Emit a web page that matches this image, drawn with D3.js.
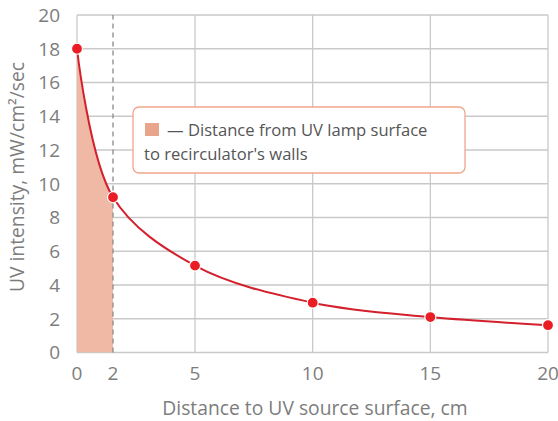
<!DOCTYPE html>
<html><head><meta charset="utf-8">
<script src="https://cdn.jsdelivr.net/npm/d3@7"></script>
<style>body{margin:0;background:#fff}svg{display:block}text{font-family:"Open Sans","Noto Sans",sans-serif}</style>
</head><body><svg id="c" width="558" height="421"></svg>
<script>
const distances = [0, 2, 5, 10, 15, 20];
const intensity = [18, 9.2, 5.15, 2.95, 2.1, 1.62];
const xTicks = [0, 2, 5, 10, 15, 20];
const yTicks = [0, 2, 4, 6, 8, 10, 12, 14, 16, 18, 20];
const wallDistance = 2;
const legendLines = ["\u2014 Distance from UV lamp surface", "to recirculator's walls"];
const xTitle = "Distance to UV source surface, cm";
const yTitle = "UV intensity, mW/cm\u00B2/sec";

const svg = d3.select("#c");
const x = d3.scaleLinear().domain([0, 2, 5, 20]).range([77, 113, 195, 548]);
const y = d3.scaleLinear().domain([0, 20]).range([352.5, 15]);
const data = distances.map((d, i) => ({x: d, y: intensity[i]}));
const grid = "#c9c9c9";
const tickColor = "#7d7d7d";

// horizontal grid
svg.append("g").selectAll("line").data(yTicks).join("line")
  .attr("x1", x(0)).attr("x2", x(20)).attr("y1", d => y(d)).attr("y2", d => y(d))
  .attr("stroke", grid).attr("stroke-width", 1.3);
// vertical grid
svg.append("g").selectAll("line").data(xTicks.filter(d => d !== wallDistance)).join("line")
  .attr("x1", d => x(d)).attr("x2", d => x(d)).attr("y1", y(0)).attr("y2", y(20))
  .attr("stroke", grid).attr("stroke-width", 1.3);

// area clip
svg.append("clipPath").attr("id", "clip").append("rect")
  .attr("x", x(0)).attr("y", 0).attr("width", x(wallDistance) - x(0)).attr("height", y(0));
const curve = d3.curveCatmullRom.alpha(0.5);
svg.append("path").datum(data).attr("clip-path", "url(#clip)")
  .attr("d", d3.area().x(d => x(d.x)).y0(y(0)).y1(d => y(d.y)).curve(curve))
  .attr("fill", "#f0b9a5");

// dashed line at wall distance
svg.append("line").attr("x1", x(wallDistance)).attr("x2", x(wallDistance))
  .attr("y1", y(0)).attr("y2", y(20)).attr("stroke", "#8a8a8a").attr("stroke-width", 1.3)
  .attr("stroke-dasharray", "5,4");

// curve
svg.append("path").datum(data)
  .attr("d", d3.line().x(d => x(d.x)).y(d => y(d.y)).curve(curve))
  .attr("fill", "none").attr("stroke", "#d3202c").attr("stroke-width", 2);

// points
svg.append("g").selectAll("circle").data(data).join("circle")
  .attr("cx", d => x(d.x)).attr("cy", d => y(d.y)).attr("r", 5.5)
  .attr("fill", "#ea1c24").attr("stroke", "#fff").attr("stroke-width", 1.2);

// axis labels
svg.append("g").selectAll("text").data(yTicks).join("text")
  .attr("x", 60).attr("y", d => y(d)).attr("dy", "0.36em").attr("text-anchor", "end")
  .attr("font-size", 19).attr("fill", tickColor).text(d => d);
svg.append("g").selectAll("text").data(xTicks).join("text")
  .attr("x", d => x(d)).attr("y", 380).attr("text-anchor", "middle")
  .attr("font-size", 19).attr("fill", tickColor).text(d => d);

svg.append("text").attr("x", 315).attr("y", 415).attr("text-anchor", "middle")
  .attr("font-size", 19.3).attr("fill", tickColor).text(xTitle);
svg.append("text").attr("transform", "translate(24,177) rotate(-90)").attr("text-anchor", "middle")
  .attr("font-size", 19.3).attr("fill", tickColor).text(yTitle);

// legend
const lg = svg.append("g");
lg.append("rect").attr("x", 133).attr("y", 107).attr("width", 332).attr("height", 66)
  .attr("rx", 6).attr("fill", "#fff").attr("stroke", "#f0a58c").attr("stroke-width", 1.3);
lg.append("rect").attr("x", 145).attr("y", 123).attr("width", 14).attr("height", 13).attr("fill", "#e9a48c");
lg.append("text").attr("x", 167).attr("y", 136).attr("font-size", 16.6).attr("fill", "#555").text(legendLines[0]);
lg.append("text").attr("x", 144).attr("y", 160).attr("font-size", 16.6).attr("fill", "#555").text(legendLines[1]);
</script></body></html>
